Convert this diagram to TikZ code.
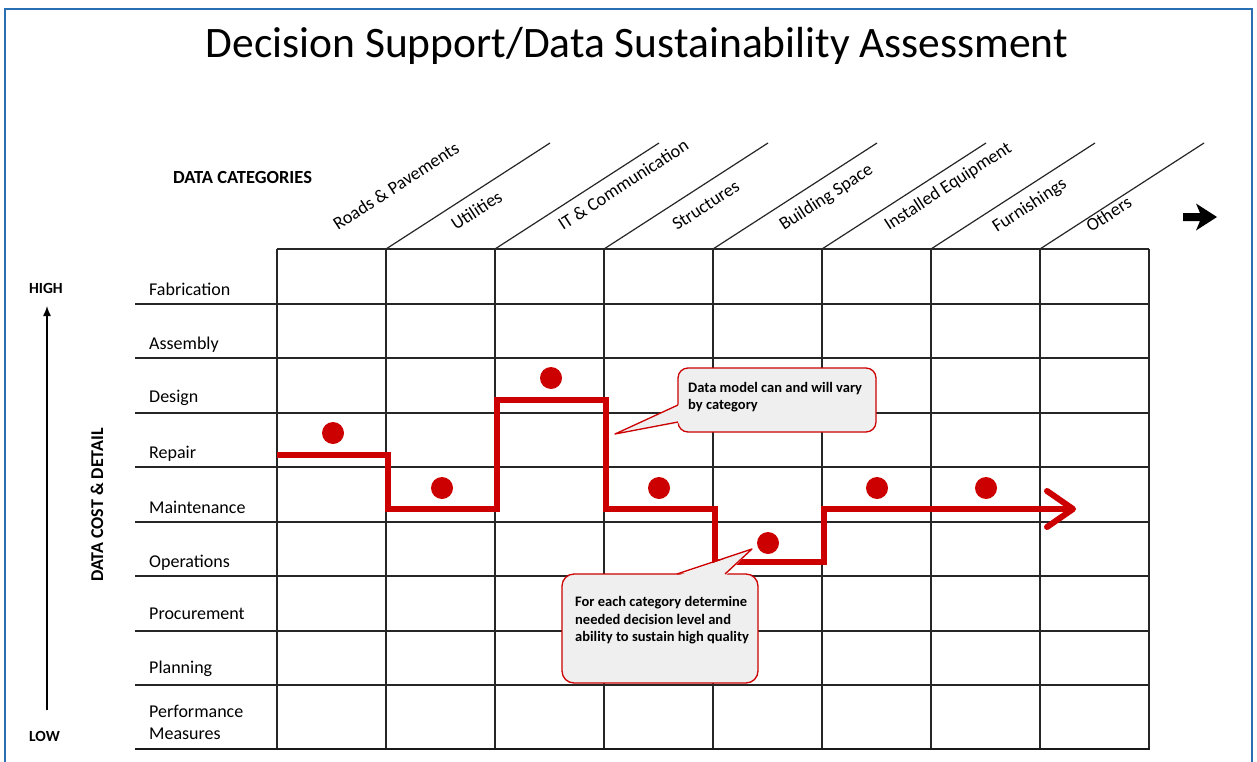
\documentclass[tikz,border=0pt]{standalone}
\usepackage{fontspec}
\setmainfont{Carlito}
\usetikzlibrary{arrows.meta}
\definecolor{cred}{HTML}{CC0000}
\definecolor{cframe}{HTML}{2A6EB4}
\definecolor{cfill}{HTML}{EFEFEF}
\begin{document}
\begin{tikzpicture}[x=1pt,y=-1pt,
  gridline/.style={line width=1.2pt, draw=black!85},
  rowlabel/.style={anchor=base west, inner sep=0pt, font=\fontsize{18}{21}\selectfont},
  catlabel/.style={anchor=base west, inner sep=0pt, rotate=33, font=\fontsize{18.2}{21}\selectfont},
  boldlabel/.style={inner sep=0pt, font=\bfseries\fontsize{18.5}{22}\selectfont},
  stepline/.style={draw=cred, line width=6pt, line join=miter},
  reddot/.style={circle, fill=cred, minimum size=22pt, inner sep=0pt},
  callout/.style={draw=cred, line width=1.3pt, fill=cfill},
  callouttext/.style={anchor=base west, inner sep=0pt, font=\bfseries\fontsize{14.5}{17}\selectfont}
]
\useasboundingbox (0,0) rectangle (1257,762);
\fill[white] (0,0) rectangle (1257,762);
% frame
\draw[cframe, line width=1.6pt] (5,780) -- (5,9) -- (1252,9) -- (1252,780);

% title
\node[anchor=base, inner sep=0pt, font=\fontsize{43.5}{52}\selectfont] (title) at (637,58) {Decision Support/Data Sustainability Assessment};

% grid
\foreach \x in {277,386,495,604,713,822,931,1040,1149}
  \draw[gridline] (\x,249) -- (\x,749);
\draw[gridline] (277,249) -- (1149,249);
\foreach \y in {304,358,413,467,522,576,631,685}
  \draw[gridline] (135,\y) -- (1149,\y);
\draw[line width=2.2pt, draw=black!90] (135,749) -- (1150,749);
% diagonals
\foreach \x in {386,495,604,713,822,931,1040}
  \draw[gridline] (\x,249) -- ++(164,-106);

% category labels
\node[boldlabel, anchor=base west] (datacat) at (173,184) {DATA CATEGORIES};
\node[catlabel] (c1) at (338,231) {Roads \& Pavements};
\node[catlabel] (c2) at (456,231) {Utilities};
\node[catlabel] (c3) at (563,231) {IT \& Communication};
\node[catlabel] (c4) at (677,231) {Structures};
\node[catlabel] (c5) at (784,231) {Building Space};
\node[catlabel] (c6) at (889,231) {Installed Equipment};
\node[catlabel] (c7) at (997,233) {Furnishings};
\node[catlabel] (c8) at (1091,233) {Others};

% black arrow top right
\fill[black] (1183,213) -- (1200,213) -- (1196,203.5) -- (1217,217) -- (1196,230.5) -- (1200,221) -- (1183,221) -- cycle;

% row labels
\node[rowlabel] (r1) at (149,295) {Fabrication};
\node[rowlabel] (r2) at (149,349) {Assembly};
\node[rowlabel] (r3) at (149,402) {Design};
\node[rowlabel] (r4) at (149,458) {Repair};
\node[rowlabel] (r5) at (149,513) {Maintenance};
\node[rowlabel] (r6) at (149,567) {Operations};
\node[rowlabel] (r7) at (149,619) {Procurement};
\node[rowlabel] (r8) at (149,673) {Planning};
\node[rowlabel] (r9) at (149,717) {Performance};
\node[rowlabel] (r9b) at (149,739) {Measures};

% left axis
\node[boldlabel, anchor=base west, font=\bfseries\fontsize{15.5}{18}\selectfont] (high) at (29,293) {HIGH};
\node[boldlabel, anchor=base west, font=\bfseries\fontsize{15.5}{18}\selectfont] (low) at (29,741) {LOW};
\coordinate (axbot) at (47,710);
\coordinate (axtop) at (47,306);
\draw[line width=1.4pt, -{Latex[length=10pt,width=8pt]}] (axbot) -- (axtop);
\node[boldlabel, anchor=base, rotate=90, font=\bfseries\fontsize{18}{22}\selectfont] (axlabel) at (103,505) {DATA COST \& DETAIL};

% red step line
\draw[stepline] (277,455) -- (388,455) -- (388,509) -- (497,509) -- (497,400) -- (606,400) -- (606,509) -- (715,509) -- (715,562) -- (824,562) -- (824,509) -- (1071,509);
\draw[draw=cred, line width=6pt, line cap=round, line join=round] (1047,491) -- (1073,509) -- (1047,527);

% red dots
\node[reddot] (d1) at (333,433) {};
\node[reddot] (d2) at (442,488) {};
\node[reddot] (d3) at (551,378) {};
\node[reddot] (d4) at (659,488) {};
\node[reddot] (d5) at (768,543) {};
\node[reddot] (d6) at (877,488) {};
\node[reddot] (d7) at (986,488) {};

% callout 1
\draw[callout, rounded corners=10pt] (678,368) rectangle (876,432);
\fill[cfill] (680,404) -- (615,434) -- (680,423) -- cycle;
\draw[cred, line width=1.3pt, line join=round] (678,405) -- (615,434) -- (678,422);
\node[callouttext] (t1a) at (688,392) {Data model can and will vary};
\node[callouttext] (t1b) at (688,409) {by category};

% callout 2
\draw[callout, rounded corners=12pt] (562,574) rectangle (758,683);
\fill[cfill] (677,576) -- (752,549) -- (725,576) -- cycle;
\draw[cred, line width=1.3pt, line join=round] (677,574) -- (752,549) -- (725,574);
\node[callouttext] (t2a) at (575,606) {For each category determine};
\node[callouttext] (t2b) at (575,624) {needed decision level and};
\node[callouttext] (t2c) at (575,641) {ability to sustain high quality};
\end{tikzpicture}
\end{document}
